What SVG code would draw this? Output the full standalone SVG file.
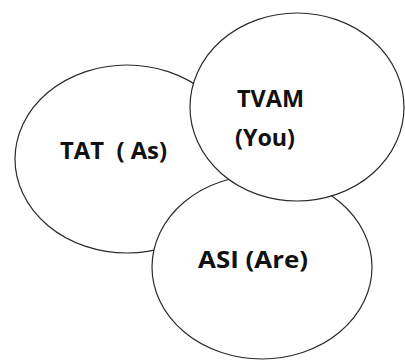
<svg xmlns="http://www.w3.org/2000/svg" width="405" height="361" viewBox="0 0 405 361">
<style>
.node ellipse{fill:#fff;stroke:#2a2a2a;stroke-width:1.2}
.lbl{font-family:"Open Sans","Liberation Sans",sans-serif;font-weight:bold;font-size:23.5px;fill:#111;white-space:pre}
</style>
<rect width="405" height="361" fill="#fff"/>
<g id="tat" class="node">
<ellipse cx="127" cy="159" rx="112" ry="94"/>
<text class="lbl" x="60" y="159" textLength="107" lengthAdjust="spacingAndGlyphs">TAT  ( As)</text>
</g>
<g id="asi" class="node">
<ellipse cx="262" cy="267" rx="110" ry="92"/>
<text class="lbl" x="198" y="268" textLength="110" lengthAdjust="spacingAndGlyphs">ASI (Are)</text>
</g>
<g id="tvam" class="node">
<ellipse cx="297" cy="107" rx="107" ry="94"/>
<text class="lbl" x="237" y="107" textLength="67" lengthAdjust="spacingAndGlyphs">TVAM</text>
<text class="lbl" x="235" y="146" textLength="60" lengthAdjust="spacingAndGlyphs">(You)</text>
</g>
<g id="connectors"></g>
</svg>
